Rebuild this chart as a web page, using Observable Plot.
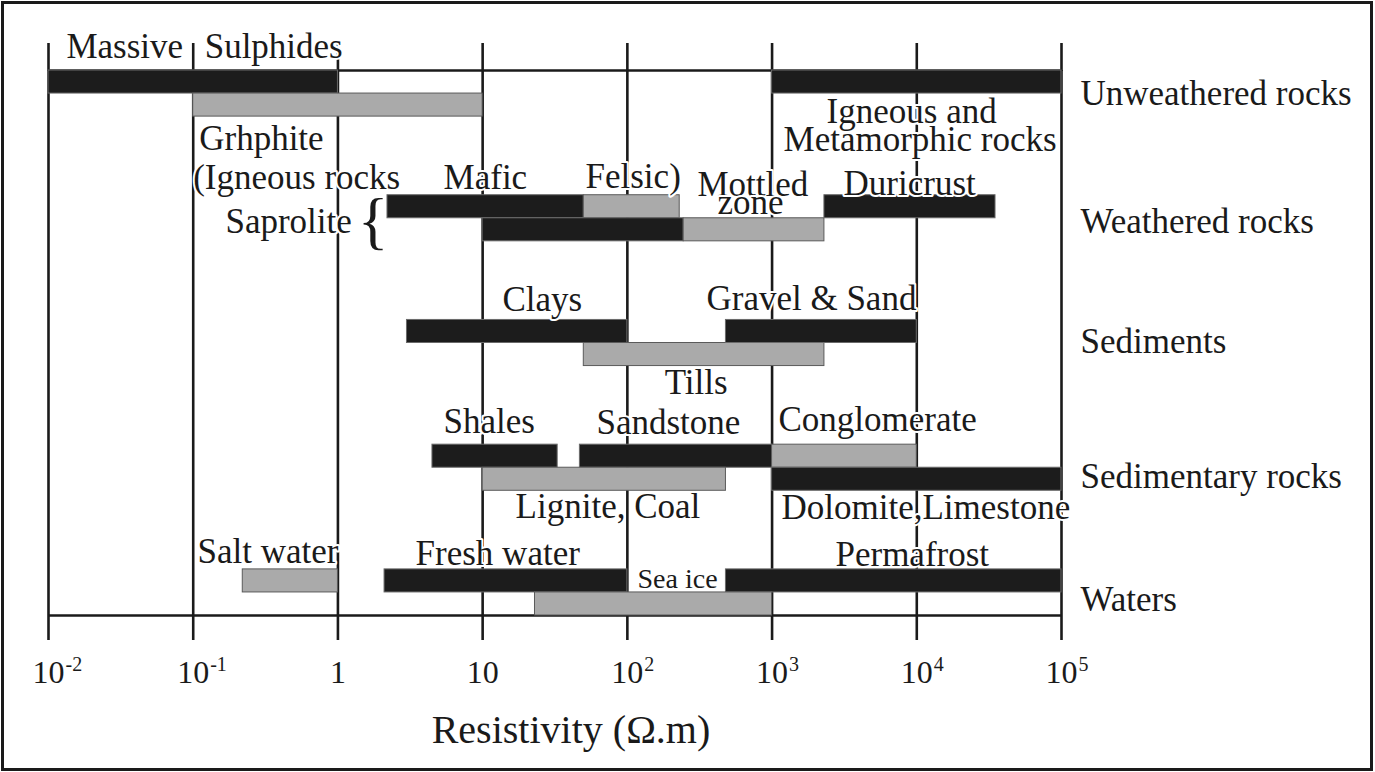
<!DOCTYPE html>
<html><head><meta charset="utf-8">
<script src="https://cdn.jsdelivr.net/npm/d3@7"></script>
<script src="https://cdn.jsdelivr.net/npm/@observablehq/plot@0.6"></script>
<style>
html,body{margin:0;padding:0;background:#fff;}
#wrap{position:relative;width:1375px;height:772px;overflow:hidden;background:#fff;}
#border{position:absolute;left:1px;top:1px;width:1372px;height:770px;box-sizing:border-box;border:3px solid #1a1a1a;pointer-events:none;}
#chart{position:absolute;left:0;top:0;}
</style></head><body>
<div id="wrap"><div id="chart"></div><div id="border"></div></div>
<script>
// ---- data ----
const groupNames = ["Unweathered rocks", "Weathered rocks", "Sediments", "Sedimentary rocks", "Waters"];

const barMaterial = ["Massive sulphides", "Graphite", "Igneous and metamorphic rocks",
  "Saprolite (mafic)", "Saprolite (felsic)", "Saprolite", "Mottled zone", "Duricrust",
  "Clays", "Tills", "Gravel & sand",
  "Shales", "Sandstone", "Conglomerate", "Lignite, coal", "Dolomite, limestone",
  "Salt water", "Fresh water", "Permafrost", "Sea ice"];
const barGroup = [0, 0, 0, 1, 1, 1, 1, 1, 2, 2, 2, 3, 3, 3, 3, 3, 4, 4, 4, 4];
const barLane  = [0, 1, 0, 0, 0, 1, 1, 0, 0, 1, 0, 0, 0, 0, 1, 1, 0, 0, 0, 1];
const barFrom  = [0.01, 0.1, 1000, 2.2, 50, 10, 245, 2300, 3, 50, 480, 4.5, 47, 1000, 10, 1000, 0.22, 2.1, 480, 23];
const barTo    = [1, 10, 1e5, 50, 230, 245, 2300, 35000, 100, 2300, 1e4, 33, 1000, 1e4, 480, 1e5, 1, 100, 1e5, 1000];
const barTone  = ["dark", "light", "dark", "dark", "light", "dark", "light", "dark", "dark", "light", "dark",
  "dark", "dark", "light", "light", "dark", "light", "dark", "dark", "light"];

const labelText = ["Massive", "Sulphides", "Grhphite", "Igneous and", "Metamorphic rocks",
  "(Igneous rocks", "Mafic", "Felsic)", "Mottled", "zone", "Duricrust", "Saprolite", "{",
  "Clays", "Gravel & Sand", "Tills", "Shales", "Sandstone", "Conglomerate",
  "Lignite, Coal", "Dolomite,Limestone", "Salt water", "Fresh water", "Sea ice", "Permafrost"];
const labelAt = [0.0133, 0.12, 0.11, 2380, 1200, 0.1, 5.37, 51.4, 305, 420, 3120, 0.167, 1.37,
  13.7, 352, 181, 5.37, 61.2, 1108, 16.9, 1162, 0.107, 3.44, 117.5, 2743];
const labelRow = [-0.56, -0.56, 3.47, 2.26, 3.51, 5.16, 5.16, 5.08, 5.43, 6.22, 5.38, 7.03, 7.45,
  10.45, 10.37, 14.02, 15.71, 15.76, 15.63, 19.4, 19.44, 21.35, 21.44, 22.44, 21.48];

const tickValues = [1e-2, 1e-1, 1, 10, 100, 1e3, 1e4, 1e5];
const tickBase = ["10", "10", "1", "10", "10", "10", "10", "10"];
const tickExp  = ["-2", "-1", "", "", "2", "3", "4", "5"];
const axisTitle = "Resistivity (\u03A9.m)";

// ---- layout helpers ----
const GROUP_STEP = 5.41;
const groupLabelOffset = [1.48, 1.66, 1.42, 1.87, 1.8];
const yMax = (groupNames.length - 1) * GROUP_STEP + 2;
const ink = "#1a1a1a";
const lineW = 2.6;
const font = "'Liberation Serif', 'Times New Roman', 'DejaVu Serif', serif";

const bars = barMaterial.map((m, i) => ({
  material: m, from: barFrom[i], to: barTo[i], tone: barTone[i],
  y1: barGroup[i] * GROUP_STEP + barLane[i], y2: barGroup[i] * GROUP_STEP + barLane[i] + 1
}));
const labels = labelText.map((t, i) => ({text: t, x: labelAt[i], y: labelRow[i]}));
const groups = groupNames.map((g, i) => ({name: g, y: i * GROUP_STEP + groupLabelOffset[i]}));
const ticks = tickValues.map((v, i) => ({v, base: tickBase[i], exp: tickExp[i]}));
const sizeOf = t => t === "{" ? 64 : t === "Sea ice" ? 28 : 35;

const chart = Plot.plot({
  width: 1375, height: 772,
  marginLeft: 48, marginRight: 314, marginTop: 70, marginBottom: 157,
  x: {type: "log", domain: [1e-2, 1e5]},
  y: {domain: [0, yMax], reverse: true, axis: null},
  style: {fontFamily: font, fontSize: "35px", color: ink, background: "transparent", overflow: "visible"},
  marks: [
    Plot.ruleX(tickValues, {stroke: ink, strokeWidth: lineW}),
    Plot.axisX({anchor: "top", ticks: tickValues, tickSize: 28, tickFormat: () => "", strokeWidth: lineW, stroke: ink}),
    Plot.axisX({anchor: "bottom", ticks: tickValues, tickSize: 25, tickFormat: () => "", strokeWidth: lineW, stroke: ink}),
    Plot.ruleY([0, yMax], {stroke: ink, strokeWidth: lineW}),
    Plot.rect(bars, {
      x1: "from", x2: "to", y1: "y1", y2: "y2",
      fill: d => d.tone === "dark" ? "#1c1c1c" : "#aaaaaa",
      stroke: d => d.tone === "dark" ? "#6a6a6a" : "#5a5a5a",
      strokeWidth: 1
    }),
    Plot.text(labels, {
      x: "x", y: "y", text: "text", textAnchor: "start", lineAnchor: "bottom",
      fontSize: d => sizeOf(d.text), fill: ink, stroke: "white", strokeWidth: 4, paintOrder: "stroke"
    }),
    Plot.text(groups, {
      y: "y", text: "name", frameAnchor: "right", dx: 19, textAnchor: "start", lineAnchor: "bottom",
      fontSize: 35, fill: ink
    }),
    Plot.text(ticks, {
      x: "v", text: "base", frameAnchor: "bottom", dy: 67, textAnchor: "middle", lineAnchor: "bottom",
      fontSize: 32, fill: ink
    }),
    Plot.text(ticks.filter(d => d.exp), {
      x: "v", text: "exp", frameAnchor: "bottom", dy: 55, dx: 17, textAnchor: "start", lineAnchor: "bottom",
      fontSize: 20, fill: ink
    }),
    Plot.text([axisTitle], {
      frameAnchor: "bottom", dy: 127, dx: 16, textAnchor: "middle", lineAnchor: "bottom",
      fontSize: 40, fill: ink
    })
  ]
});
document.getElementById("chart").appendChild(chart);
</script>
</body></html>
